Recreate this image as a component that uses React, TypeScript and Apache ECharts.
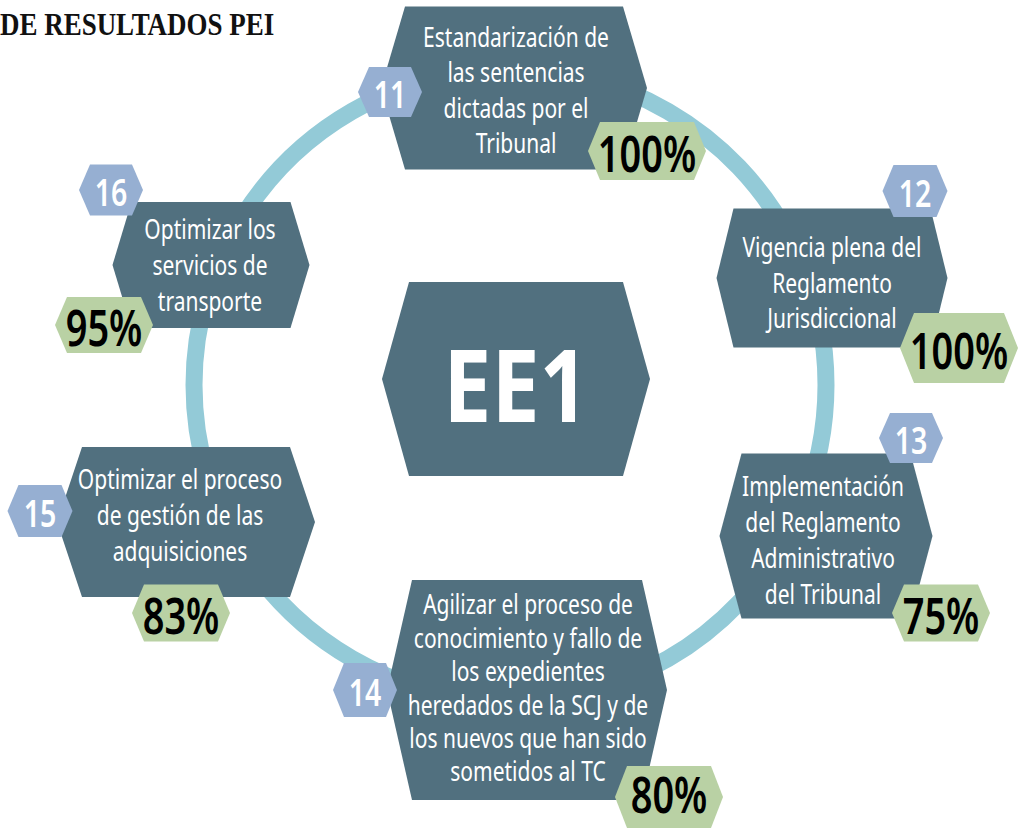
import React, { useEffect, useRef } from "react";
import * as echarts from "echarts";

// ---- data ----
const centerLabel = "EE1";
const titleText = "DE RESULTADOS PEI";
const objectiveNumbers = ["11", "12", "13", "14", "15", "16"];
const objectiveLabels = [
  ["Estandarización de", "las sentencias", "dictadas por el", "Tribunal"],
  ["Vigencia plena del", "Reglamento", "Jurisdiccional"],
  ["Implementación", "del Reglamento", "Administrativo", "del Tribunal"],
  [
    "Agilizar el proceso de",
    "conocimiento y fallo de",
    "los expedientes",
    "heredados de la SCJ y de",
    "los nuevos que han sido",
    "sometidos al TC",
  ],
  ["Optimizar el proceso", "de gestión de las", "adquisiciones"],
  ["Optimizar los", "servicios de", "transporte"],
];
const completion = [100, 100, 75, 80, 83, 95];

// ---- layout (positions / sizes only) ----
type Hex = { cx: number; cy: number; w: number; h: number; inset: number };
const nodeBoxes: Hex[] = [
  { cx: 514, cy: 88, w: 266, h: 163, inset: 24 },
  { cx: 832, cy: 278, w: 231, h: 139, inset: 17 },
  { cx: 826, cy: 536, w: 213, h: 165, inset: 22 },
  { cx: 527, cy: 690, w: 280, h: 220, inset: 25 },
  { cx: 186, cy: 522, w: 258, h: 150, inset: 25 },
  { cx: 211, cy: 265, w: 197, h: 126, inset: 19 },
];
const textAnchors = [
  { x: 516, y: 89, lh: 35.5 },
  { x: 832, y: 282, lh: 35.5 },
  { x: 823, y: 539, lh: 36 },
  { x: 528, y: 687, lh: 33.5 },
  { x: 180, y: 514, lh: 36 },
  { x: 210, y: 264, lh: 36 },
];
const numberBoxes: Hex[] = [
  { cx: 390, cy: 92, w: 64, h: 50, inset: 11 },
  { cx: 915, cy: 191, w: 65, h: 52, inset: 11 },
  { cx: 911, cy: 438, w: 64, h: 50, inset: 11 },
  { cx: 365, cy: 690, w: 64, h: 54, inset: 11 },
  { cx: 40, cy: 511, w: 65, h: 52, inset: 11 },
  { cx: 111, cy: 190, w: 64, h: 51, inset: 11 },
];
const pctBoxes: Hex[] = [
  { cx: 647, cy: 151, w: 118, h: 58, inset: 12 },
  { cx: 959, cy: 348, w: 118, h: 70, inset: 14 },
  { cx: 941, cy: 613, w: 98, h: 57, inset: 12 },
  { cx: 669, cy: 797, w: 108, h: 62, inset: 12 },
  { cx: 181, cy: 613, w: 98, h: 57, inset: 12 },
  { cx: 104, cy: 325, w: 98, h: 56, inset: 12 },
];
const pctTextShift = [2, 2, 2, -3, 2, 2];
const centerBox: Hex = { cx: 516, cy: 379, w: 268, h: 194, inset: 27 };
const ring = { cx: 510, cy: 385, r: 316, width: 17 };

const COLORS = {
  node: "#51707f",
  number: "#96afd2",
  pct: "#b9d1a4",
  ring: "#93cad7",
};
const FONT = "'Noto Sans', 'Open Sans', sans-serif";

function hexPoints(b: Hex): number[][] {
  const l = b.cx - b.w / 2;
  const r = b.cx + b.w / 2;
  const t = b.cy - b.h / 2;
  const bt = b.cy + b.h / 2;
  return [
    [l, b.cy],
    [l + b.inset, t],
    [r - b.inset, t],
    [r, b.cy],
    [r - b.inset, bt],
    [l + b.inset, bt],
  ];
}

function condensedText(
  x: number,
  y: number,
  text: string,
  size: number,
  color: string,
  weight: string | number,
  scaleX: number,
  lineHeight?: number,
  z = 10
): any {
  return {
    type: "text",
    x,
    y,
    scaleX,
    z,
    style: {
      text,
      fill: color,
      font: `${weight} ${size}px ${FONT}`,
      fontFamily: FONT,
      fontSize: size,
      fontWeight: weight,
      align: "center",
      verticalAlign: "middle",
      lineHeight: lineHeight ?? size * 1.2,
    },
  };
}

export default function App() {
  const ref = useRef<HTMLDivElement>(null);

  useEffect(() => {
    if (!ref.current) return;
    const chart = echarts.init(ref.current, null, { renderer: "svg" });

    const elements: any[] = [];

    // ring
    elements.push({
      type: "circle",
      z: 1,
      shape: { cx: ring.cx, cy: ring.cy, r: ring.r },
      style: { fill: "none", stroke: COLORS.ring, lineWidth: ring.width },
    });

    // center
    elements.push({
      type: "polygon",
      z: 2,
      shape: { points: hexPoints(centerBox) },
      style: { fill: COLORS.node },
    });
    elements.push(
      condensedText(centerBox.cx, centerBox.cy + 4, centerLabel, 100, "#ffffff", "bold", 0.86, 100)
    );

    objectiveNumbers.forEach((num, i) => {
      elements.push({
        type: "polygon",
        z: 3,
        shape: { points: hexPoints(nodeBoxes[i]) },
        style: { fill: COLORS.node },
      });
      const a = textAnchors[i];
      elements.push(
        condensedText(a.x, a.y, objectiveLabels[i].join("\n"), 28, "#ffffff", "normal", 0.75, a.lh, 5)
      );
      elements.push({
        type: "polygon",
        z: 6,
        shape: { points: hexPoints(numberBoxes[i]) },
        style: { fill: COLORS.number },
      });
      elements.push(
        condensedText(numberBoxes[i].cx, numberBoxes[i].cy + 1, num, 38, "#ffffff", 600, 0.75, 38, 7)
      );
      elements.push({
        type: "polygon",
        z: 8,
        shape: { points: hexPoints(pctBoxes[i]) },
        style: { fill: COLORS.pct },
      });
      elements.push(
        condensedText(
          pctBoxes[i].cx,
          pctBoxes[i].cy + pctTextShift[i],
          `${completion[i]}%`,
          50,
          "#000000",
          600,
          0.76,
          44,
          9
        )
      );
    });

    // title
    elements.push({
      type: "text",
      x: 0,
      y: 24,
      scaleX: 0.87,
      z: 10,
      style: {
        text: titleText,
        fill: "#111111",
        font: "bold 31px 'Liberation Serif', serif",
        fontFamily: "'Liberation Serif', serif",
        fontSize: 31,
        fontWeight: "bold",
        align: "left",
        verticalAlign: "middle",
      },
    });

    chart.setOption({
      animation: false,
      backgroundColor: "#ffffff",
      graphic: { elements },
    });

    return () => chart.dispose();
  }, []);

  return (
    <div
      ref={ref}
      style={{ position: "absolute", left: 0, top: 0, width: 1019, height: 829 }}
    />
  );
}
